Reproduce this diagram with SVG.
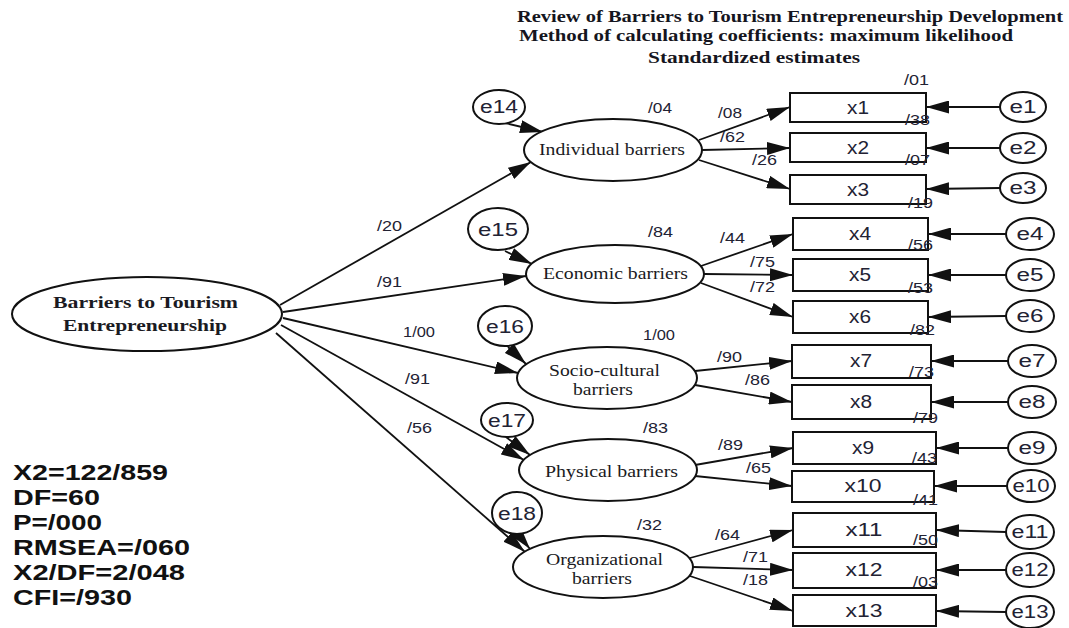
<svg xmlns="http://www.w3.org/2000/svg" width="1069" height="628" viewBox="0 0 1069 628">
<style>
.bg{fill:#fff}
.sh{fill:#fff;stroke:#111;stroke-width:2}
.ln{stroke:#111;stroke-width:1.8;fill:none;marker-end:url(#ah)}
.ti{font-family:"Liberation Serif",serif;font-weight:bold;font-size:16px;fill:#151520}
.sf{font-family:"Liberation Serif",serif;font-size:17px;fill:#1a1a22}
.sfb{font-family:"Liberation Serif",serif;font-weight:bold;font-size:17.5px;fill:#1a1a22}
.nm{font-family:"Liberation Sans",Arial,sans-serif;font-size:15px;fill:#222233}
.lb{font-family:"Liberation Sans",Arial,sans-serif;font-size:18px;fill:#222233;text-anchor:middle}
.st{font-family:"Liberation Sans",Arial,sans-serif;font-weight:bold;font-size:22px;fill:#111}
</style>
<defs>
<marker id="ah" markerUnits="userSpaceOnUse" markerWidth="23" markerHeight="13" refX="23" refY="6.5" orient="auto">
<path d="M0,0 L23,6.5 L0,13 z" fill="#111"/>
</marker>
</defs>
<rect class="bg" x="0" y="0" width="1069" height="628"/>

<g id="title">
<text class="ti" x="517" y="22" textLength="546" lengthAdjust="spacingAndGlyphs">Review of Barriers to Tourism Entrepreneurship Development</text>
<text class="ti" x="519" y="41" textLength="494" lengthAdjust="spacingAndGlyphs">Method of calculating coefficients: maximum likelihood</text>
<text class="ti" x="648" y="63" textLength="212" lengthAdjust="spacingAndGlyphs">Standardized estimates</text>
</g>

<g id="connectors">
<line class="ln" x1="280" y1="305" x2="531" y2="162"/>
<line class="ln" x1="283" y1="312" x2="526" y2="276"/>
<line class="ln" x1="283" y1="318" x2="518" y2="373"/>
<line class="ln" x1="281" y1="325" x2="524" y2="460"/>
<line class="ln" x1="276" y1="333" x2="525" y2="552"/>
<line class="ln" x1="505" y1="123" x2="543" y2="132"/>
<line class="ln" x1="505" y1="251" x2="532" y2="264"/>
<line class="ln" x1="508" y1="347" x2="526" y2="364"/>
<line class="ln" x1="506" y1="437" x2="530" y2="455"/>
<line class="ln" x1="518" y1="534" x2="530" y2="549"/>
<line class="ln" x1="699" y1="140" x2="790" y2="107"/>
<line class="ln" x1="702" y1="150" x2="790" y2="148"/>
<line class="ln" x1="699" y1="160" x2="790" y2="189"/>
<line class="ln" x1="701" y1="266" x2="793" y2="234"/>
<line class="ln" x1="704" y1="274" x2="793" y2="275"/>
<line class="ln" x1="701" y1="283" x2="793" y2="317"/>
<line class="ln" x1="695" y1="371" x2="792" y2="361"/>
<line class="ln" x1="695" y1="385" x2="792" y2="402"/>
<line class="ln" x1="695" y1="465" x2="793" y2="448"/>
<line class="ln" x1="695" y1="476" x2="792" y2="486"/>
<line class="ln" x1="690" y1="558" x2="793" y2="530"/>
<line class="ln" x1="693" y1="567" x2="793" y2="570"/>
<line class="ln" x1="690" y1="576" x2="793" y2="611"/>
<line class="ln" x1="1000" y1="107" x2="926" y2="107"/>
<line class="ln" x1="1000" y1="148" x2="926" y2="148"/>
<line class="ln" x1="1000" y1="188" x2="926" y2="189"/>
<line class="ln" x1="1006" y1="234" x2="928" y2="234"/>
<line class="ln" x1="1006" y1="275" x2="928" y2="275"/>
<line class="ln" x1="1006" y1="316" x2="928" y2="317"/>
<line class="ln" x1="1008" y1="361" x2="931" y2="361"/>
<line class="ln" x1="1008" y1="402" x2="931" y2="402"/>
<line class="ln" x1="1008" y1="448" x2="936" y2="448"/>
<line class="ln" x1="1007" y1="486" x2="934" y2="486"/>
<line class="ln" x1="1006" y1="532" x2="936" y2="530"/>
<line class="ln" x1="1006" y1="570" x2="936" y2="570"/>
<line class="ln" x1="1006" y1="612" x2="936" y2="611"/>
<g id="path-labels">
<text class="nm" x="377" y="231" textLength="25" lengthAdjust="spacingAndGlyphs">/20</text>
<text class="nm" x="377" y="287" textLength="25" lengthAdjust="spacingAndGlyphs">/91</text>
<text class="nm" x="403" y="337" textLength="32" lengthAdjust="spacingAndGlyphs">1/00</text>
<text class="nm" x="405" y="384" textLength="25" lengthAdjust="spacingAndGlyphs">/91</text>
<text class="nm" x="407" y="433" textLength="25" lengthAdjust="spacingAndGlyphs">/56</text>
<text class="nm" x="718" y="118" textLength="24" lengthAdjust="spacingAndGlyphs">/08</text>
<text class="nm" x="720" y="142" textLength="25" lengthAdjust="spacingAndGlyphs">/62</text>
<text class="nm" x="752" y="165" textLength="25" lengthAdjust="spacingAndGlyphs">/26</text>
<text class="nm" x="720" y="243" textLength="25" lengthAdjust="spacingAndGlyphs">/44</text>
<text class="nm" x="750" y="267" textLength="25" lengthAdjust="spacingAndGlyphs">/75</text>
<text class="nm" x="750" y="292" textLength="25" lengthAdjust="spacingAndGlyphs">/72</text>
<text class="nm" x="717" y="362" textLength="25" lengthAdjust="spacingAndGlyphs">/90</text>
<text class="nm" x="745" y="385" textLength="25" lengthAdjust="spacingAndGlyphs">/86</text>
<text class="nm" x="718" y="450" textLength="25" lengthAdjust="spacingAndGlyphs">/89</text>
<text class="nm" x="746" y="473" textLength="25" lengthAdjust="spacingAndGlyphs">/65</text>
<text class="nm" x="715" y="540" textLength="25" lengthAdjust="spacingAndGlyphs">/64</text>
<text class="nm" x="743" y="562" textLength="25" lengthAdjust="spacingAndGlyphs">/71</text>
<text class="nm" x="743" y="585" textLength="25" lengthAdjust="spacingAndGlyphs">/18</text>
</g>
</g>

<g id="main">
<ellipse class="sh" cx="147" cy="314" rx="135" ry="37"/>
<text class="sfb" x="53" y="308" textLength="185" lengthAdjust="spacingAndGlyphs">Barriers to Tourism</text>
<text class="sfb" x="63" y="331" textLength="164" lengthAdjust="spacingAndGlyphs">Entrepreneurship</text>
</g>

<g id="individual">
<ellipse class="sh" cx="613" cy="150" rx="89" ry="31"/>
<text class="sf" x="539" y="155" textLength="146" lengthAdjust="spacingAndGlyphs">Individual barriers</text>
<text class="nm" x="648" y="113" textLength="24" lengthAdjust="spacingAndGlyphs">/04</text>
</g>
<g id="economic">
<ellipse class="sh" cx="615" cy="274" rx="89" ry="29"/>
<text class="sf" x="543" y="279" textLength="145" lengthAdjust="spacingAndGlyphs">Economic barriers</text>
<text class="nm" x="648" y="237" textLength="25" lengthAdjust="spacingAndGlyphs">/84</text>
</g>
<g id="socio">
<ellipse class="sh" cx="607" cy="378" rx="90" ry="31"/>
<text class="sf" x="549" y="376" textLength="111" lengthAdjust="spacingAndGlyphs">Socio-cultural</text>
<text class="sf" x="573" y="395" textLength="60" lengthAdjust="spacingAndGlyphs">barriers</text>
<text class="nm" x="643" y="340" textLength="32" lengthAdjust="spacingAndGlyphs">1/00</text>
</g>
<g id="physical">
<ellipse class="sh" cx="608" cy="470" rx="89" ry="31"/>
<text class="sf" x="545" y="477" textLength="133" lengthAdjust="spacingAndGlyphs">Physical barriers</text>
<text class="nm" x="643" y="433" textLength="25" lengthAdjust="spacingAndGlyphs">/83</text>
</g>
<g id="organizational">
<ellipse class="sh" cx="603" cy="567" rx="90" ry="31"/>
<text class="sf" x="546" y="565" textLength="117" lengthAdjust="spacingAndGlyphs">Organizational</text>
<text class="sf" x="572" y="584" textLength="60" lengthAdjust="spacingAndGlyphs">barriers</text>
<text class="nm" x="637" y="530" textLength="25" lengthAdjust="spacingAndGlyphs">/32</text>
</g>

<g id="e14"><ellipse class="sh" cx="499" cy="107" rx="26" ry="17"/><text class="lb" x="499" y="113" textLength="38" lengthAdjust="spacingAndGlyphs">e14</text></g>
<g id="e15"><ellipse class="sh" cx="498" cy="229" rx="30" ry="21"/><text class="lb" x="498" y="236" textLength="40" lengthAdjust="spacingAndGlyphs">e15</text></g>
<g id="e16"><ellipse class="sh" cx="505" cy="326" rx="27" ry="20"/><text class="lb" x="505" y="333" textLength="38" lengthAdjust="spacingAndGlyphs">e16</text></g>
<g id="e17"><ellipse class="sh" cx="507" cy="420" rx="26" ry="17"/><text class="lb" x="507" y="427" textLength="38" lengthAdjust="spacingAndGlyphs">e17</text></g>
<g id="e18"><ellipse class="sh" cx="517" cy="513" rx="25" ry="21"/><text class="lb" x="517" y="520" textLength="38" lengthAdjust="spacingAndGlyphs">e18</text></g>

<g id="x1"><rect class="sh" x="790" y="93" width="136" height="29"/><text class="lb" x="858" y="114" textLength="22" lengthAdjust="spacingAndGlyphs">x1</text><text class="nm" x="904" y="85" textLength="25" lengthAdjust="spacingAndGlyphs">/01</text></g>
<g id="x2"><rect class="sh" x="790" y="133" width="136" height="29"/><text class="lb" x="858" y="154" textLength="22" lengthAdjust="spacingAndGlyphs">x2</text><text class="nm" x="905" y="125" textLength="25" lengthAdjust="spacingAndGlyphs">/38</text></g>
<g id="x3"><rect class="sh" x="790" y="175" width="136" height="29"/><text class="lb" x="858" y="196" textLength="22" lengthAdjust="spacingAndGlyphs">x3</text><text class="nm" x="905" y="165" textLength="25" lengthAdjust="spacingAndGlyphs">/07</text></g>
<g id="x4"><rect class="sh" x="793" y="218" width="135" height="32"/><text class="lb" x="860" y="240" textLength="22" lengthAdjust="spacingAndGlyphs">x4</text><text class="nm" x="908" y="208" textLength="25" lengthAdjust="spacingAndGlyphs">/19</text></g>
<g id="x5"><rect class="sh" x="793" y="259" width="135" height="32"/><text class="lb" x="860" y="281" textLength="22" lengthAdjust="spacingAndGlyphs">x5</text><text class="nm" x="908" y="250" textLength="25" lengthAdjust="spacingAndGlyphs">/56</text></g>
<g id="x6"><rect class="sh" x="793" y="301" width="135" height="32"/><text class="lb" x="860" y="323" textLength="22" lengthAdjust="spacingAndGlyphs">x6</text><text class="nm" x="908" y="293" textLength="25" lengthAdjust="spacingAndGlyphs">/53</text></g>
<g id="x7"><rect class="sh" x="792" y="345" width="139" height="33"/><text class="lb" x="861" y="367" textLength="22" lengthAdjust="spacingAndGlyphs">x7</text><text class="nm" x="910" y="335" textLength="25" lengthAdjust="spacingAndGlyphs">/82</text></g>
<g id="x8"><rect class="sh" x="792" y="385" width="139" height="34"/><text class="lb" x="861" y="408" textLength="22" lengthAdjust="spacingAndGlyphs">x8</text><text class="nm" x="909" y="377" textLength="25" lengthAdjust="spacingAndGlyphs">/73</text></g>
<g id="x9"><rect class="sh" x="793" y="432" width="143" height="32"/><text class="lb" x="863" y="454" textLength="22" lengthAdjust="spacingAndGlyphs">x9</text><text class="nm" x="913" y="423" textLength="25" lengthAdjust="spacingAndGlyphs">/79</text></g>
<g id="x10"><rect class="sh" x="792" y="471" width="142" height="31"/><text class="lb" x="863" y="492" textLength="37" lengthAdjust="spacingAndGlyphs">x10</text><text class="nm" x="912" y="463" textLength="25" lengthAdjust="spacingAndGlyphs">/43</text></g>
<g id="x11"><rect class="sh" x="793" y="513" width="143" height="34"/><text class="lb" x="864" y="536" textLength="37" lengthAdjust="spacingAndGlyphs">x11</text><text class="nm" x="913" y="505" textLength="25" lengthAdjust="spacingAndGlyphs">/41</text></g>
<g id="x12"><rect class="sh" x="793" y="553" width="143" height="35"/><text class="lb" x="864" y="576" textLength="37" lengthAdjust="spacingAndGlyphs">x12</text><text class="nm" x="913" y="545" textLength="25" lengthAdjust="spacingAndGlyphs">/50</text></g>
<g id="x13"><rect class="sh" x="793" y="595" width="143" height="31"/><text class="lb" x="864" y="617" textLength="37" lengthAdjust="spacingAndGlyphs">x13</text><text class="nm" x="913" y="587" textLength="25" lengthAdjust="spacingAndGlyphs">/03</text></g>

<g id="e1"><ellipse class="sh" cx="1023" cy="107" rx="23" ry="15"/><text class="lb" x="1023" y="113" textLength="27" lengthAdjust="spacingAndGlyphs">e1</text></g>
<g id="e2"><ellipse class="sh" cx="1023" cy="148" rx="23" ry="15"/><text class="lb" x="1023" y="154" textLength="27" lengthAdjust="spacingAndGlyphs">e2</text></g>
<g id="e3"><ellipse class="sh" cx="1023" cy="188" rx="23" ry="15"/><text class="lb" x="1023" y="194" textLength="27" lengthAdjust="spacingAndGlyphs">e3</text></g>
<g id="e4"><ellipse class="sh" cx="1030" cy="234" rx="24" ry="16"/><text class="lb" x="1030" y="240" textLength="27" lengthAdjust="spacingAndGlyphs">e4</text></g>
<g id="e5"><ellipse class="sh" cx="1030" cy="275" rx="24" ry="16"/><text class="lb" x="1030" y="281" textLength="27" lengthAdjust="spacingAndGlyphs">e5</text></g>
<g id="e6"><ellipse class="sh" cx="1030" cy="316" rx="24" ry="16"/><text class="lb" x="1030" y="322" textLength="27" lengthAdjust="spacingAndGlyphs">e6</text></g>
<g id="e7"><ellipse class="sh" cx="1032" cy="361" rx="24" ry="16"/><text class="lb" x="1032" y="367" textLength="27" lengthAdjust="spacingAndGlyphs">e7</text></g>
<g id="e8"><ellipse class="sh" cx="1032" cy="402" rx="24" ry="16"/><text class="lb" x="1032" y="408" textLength="27" lengthAdjust="spacingAndGlyphs">e8</text></g>
<g id="e9"><ellipse class="sh" cx="1032" cy="448" rx="24" ry="16"/><text class="lb" x="1032" y="454" textLength="27" lengthAdjust="spacingAndGlyphs">e9</text></g>
<g id="e10"><ellipse class="sh" cx="1031" cy="486" rx="24" ry="16"/><text class="lb" x="1031" y="492" textLength="37" lengthAdjust="spacingAndGlyphs">e10</text></g>
<g id="e11"><ellipse class="sh" cx="1030" cy="532" rx="24" ry="17"/><text class="lb" x="1030" y="538" textLength="37" lengthAdjust="spacingAndGlyphs">e11</text></g>
<g id="e12"><ellipse class="sh" cx="1030" cy="570" rx="24" ry="17"/><text class="lb" x="1030" y="576" textLength="37" lengthAdjust="spacingAndGlyphs">e12</text></g>
<g id="e13"><ellipse class="sh" cx="1030" cy="612" rx="24" ry="16"/><text class="lb" x="1030" y="618" textLength="37" lengthAdjust="spacingAndGlyphs">e13</text></g>

<g id="fit-stats">
<text class="st" x="13" y="480" textLength="155" lengthAdjust="spacingAndGlyphs">X2=122/859</text>
<text class="st" x="13" y="505" textLength="87" lengthAdjust="spacingAndGlyphs">DF=60</text>
<text class="st" x="13" y="530" textLength="89" lengthAdjust="spacingAndGlyphs">P=/000</text>
<text class="st" x="13" y="555" textLength="177" lengthAdjust="spacingAndGlyphs">RMSEA=/060</text>
<text class="st" x="13" y="580" textLength="172" lengthAdjust="spacingAndGlyphs">X2/DF=2/048</text>
<text class="st" x="13" y="605" textLength="119" lengthAdjust="spacingAndGlyphs">CFI=/930</text>
</g>
</svg>
